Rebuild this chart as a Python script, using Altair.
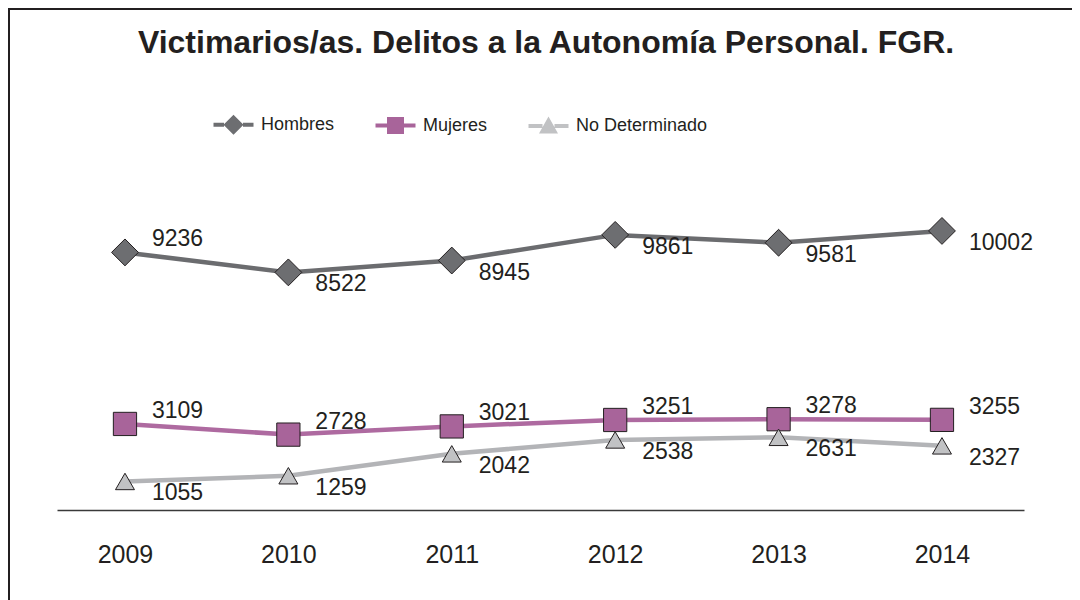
import altair as alt
import pandas as pd

# ---- data ----
years = [2009, 2010, 2011, 2012, 2013, 2014]
series = ["Hombres", "Mujeres", "No Determinado"]
hombres = [9236, 8522, 8945, 9861, 9581, 10002]
mujeres = [3109, 2728, 3021, 3251, 3278, 3255]
no_determinado = [1055, 1259, 2042, 2538, 2631, 2327]

title_text = "Victimarios/as. Delitos a la Autonomía Personal. FGR."

rows = []
for name, vals in zip(series, [hombres, mujeres, no_determinado]):
    for y, v in zip(years, vals):
        rows.append({"year": y, "serie": name, "value": v})
df = pd.DataFrame(rows)

# ---- styling ----
FONT = "Liberation Sans, Arial, sans-serif"
INK = "#231f20"
line_colors = ["#6b6c6f", "#ae6aa0", "#b3b4b7"]
fill_colors = ["#6d6e71", "#a8649a", "#c1c2c4"]
marker_shapes = ["diamond", "square", "triangle-up"]
legend_paths = [
    "M-2,-0.2H-0.95V0.2H-2Z M0.95,-0.2H2V0.2H0.95Z M-1,0L0,-1L1,0L0,1Z",
    "M-2,-0.2H-0.85V0.2H-2Z M0.85,-0.2H2V0.2H0.85Z M-0.85,-0.85H0.85V0.85H-0.85Z",
    "M-2,-0.2H-0.6V0.2H-2Z M0.6,-0.2H2V0.2H0.6Z M0,-0.95L0.95,0.75L-0.95,0.75Z",
]

W, H = 1064, 592

x_enc = alt.X(
    "year:Q",
    scale=alt.Scale(domain=[2008.584, 2014.502], range=[49, 1016], nice=False, zero=False),
    axis=alt.Axis(
        values=years, format="d", title=None, grid=False, ticks=False, tickSize=0,
        domainColor="#3a3a3a", domainWidth=1.5, offset=502 - H,
        labelFont=FONT, labelFontSize=25, labelColor=INK, labelPadding=44,
        labelBaseline="middle", labelFlush=False,
    ),
)
y_enc = alt.Y("value:Q", scale=alt.Scale(domain=[0, 14000], range=[503, 111]), axis=None)

base = alt.Chart(df).encode(x=x_enc, y=y_enc)

lines = base.mark_line(strokeWidth=4.5).encode(
    color=alt.Color("serie:N", scale=alt.Scale(domain=series, range=line_colors), legend=None),
    detail="serie:N",
)

points = base.mark_point(filled=True, opacity=1, stroke=INK, strokeWidth=1).encode(
    shape=alt.Shape("serie:N", scale=alt.Scale(domain=series, range=marker_shapes), legend=None),
    fill=alt.Fill("serie:N", scale=alt.Scale(domain=series, range=fill_colors), legend=None),
    size=alt.Size("serie:N", scale=alt.Scale(domain=series, range=[720, 361, 625]), legend=None),
)

legend_layer = alt.Chart(df).transform_filter("false").mark_point(
    filled=True, stroke=INK, strokeWidth=1
).encode(
    x=x_enc, y=y_enc,
    shape=alt.Shape("serie:N", scale=alt.Scale(domain=series, range=legend_paths),
                    legend=alt.Legend(title=None)),
    fill=alt.Fill("serie:N", scale=alt.Scale(domain=series, range=fill_colors),
                  legend=alt.Legend(title=None)),
)

side_expr = "datum.serie == 'Mujeres' || (datum.serie == 'Hombres' && datum.year == 2009) ? 'above' : 'below'"

labels_above = base.transform_calculate(side=side_expr).transform_filter(
    "datum.side == 'above'"
).mark_text(align="left", baseline="middle", dx=27, dy=-13, font=FONT, fontSize=23, color=INK).encode(
    text="value:Q"
)
labels_below = base.transform_calculate(side=side_expr).transform_filter(
    "datum.side == 'below'"
).mark_text(align="left", baseline="middle", dx=27, dy=12, font=FONT, fontSize=23, color=INK).encode(
    text="value:Q"
)

one = alt.Chart(alt.Data(values=[{"k": 1}]))
frame_left = one.mark_rule(color=INK, strokeWidth=2).encode(
    x=alt.value(1), y=alt.value(0), y2=alt.value(H)
)
frame_top = one.mark_rule(color=INK, strokeWidth=2).encode(
    y=alt.value(1), x=alt.value(0), x2=alt.value(W)
)

chart = (
    alt.layer(frame_left, frame_top, lines, points, legend_layer, labels_above, labels_below)
    .resolve_scale(shape="independent", fill="independent", size="independent")
    .properties(
        width=W,
        height=H,
        autosize=alt.AutoSizeParams(type="none"),
        padding={"left": 0, "top": 0, "right": 0, "bottom": 0},
        title=alt.TitleParams(
            title_text, font=FONT, fontSize=32, fontWeight="bold",
            color=INK, anchor="middle", offset=-78, baseline="alphabetic", dx=6,
        ),
    )
    .configure_view(stroke="transparent", strokeWidth=0)
    .configure_legend(
        orient="none", legendX=215, legendY=106, direction="horizontal",
        symbolSize=400, symbolStrokeColor=INK, symbolStrokeWidth=1, symbolOpacity=1,
        labelFont=FONT, labelFontSize=18, labelColor=INK, labelOffset=17, labelLimit=400,
        columnPadding=38, padding=0,
    )
)

chart.save("out.html", embed_options={"renderer": "svg", "actions": False})
